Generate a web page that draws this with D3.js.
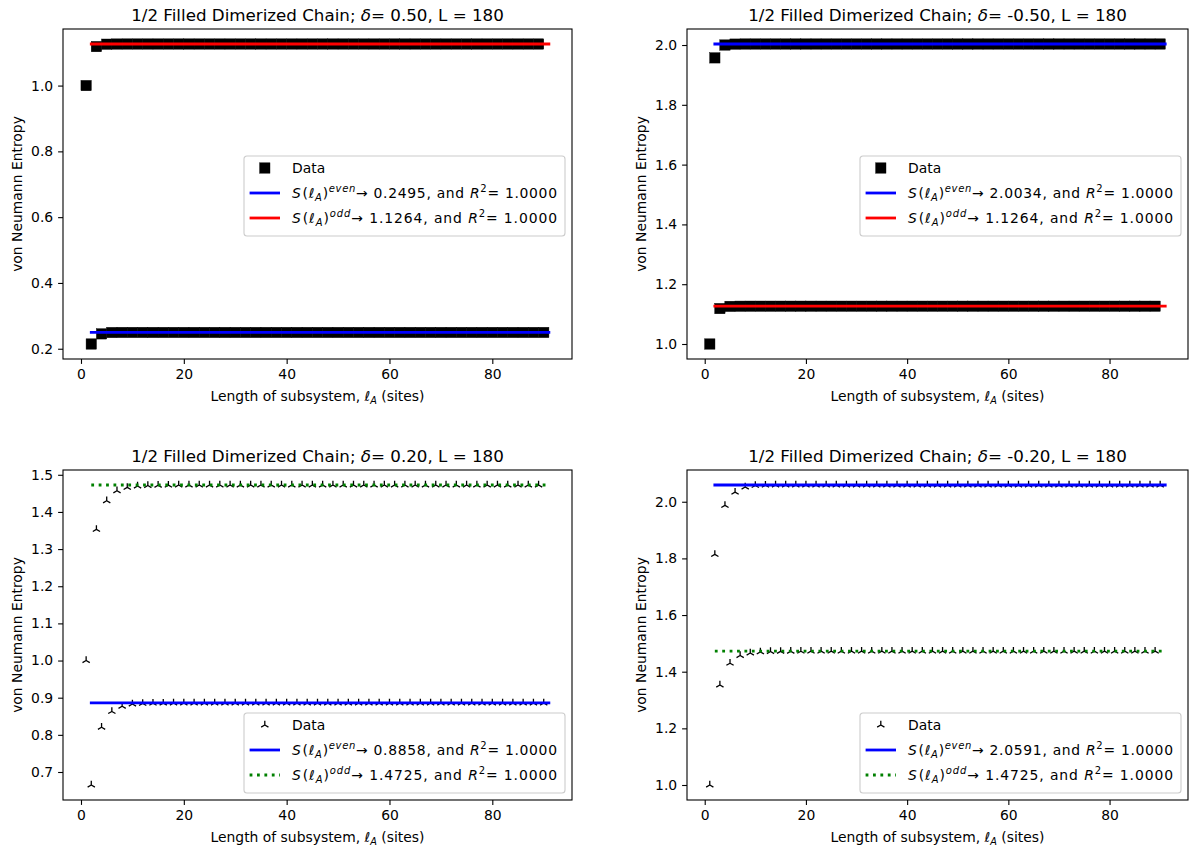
<!DOCTYPE html>
<html>
<head>
<meta charset="utf-8">
<script src="https://cdn.jsdelivr.net/npm/d3@7"></script>
<style>
body { margin: 0; background: #fff; }
svg { display: block; }
text { font-family: "DejaVu Sans", sans-serif; fill: #000; }
</style>
</head>
<body>
<svg></svg>
<script>
// subsystem lengths (sites), odd and even
const sitesOdd = [1,3,5,7,9,11,13,15,17,19,21,23,25,27,29,31,33,35,37,39,41,43,45,
  47,49,51,53,55,57,59,61,63,65,67,69,71,73,75,77,79,81,83,85,87,89];
const sitesEven = [2,4,6,8,10,12,14,16,18,20,22,24,26,28,30,32,34,36,38,40,42,44,46,
  48,50,52,54,56,58,60,62,64,66,68,70,72,74,76,78,80,82,84,86,88,90];
const fitRange = [2, 91];

// delta = 0.50
const sEven_d050 = [0.2144,0.2452,0.2493,0.2495,0.2495,0.2495,0.2495,0.2495,0.2495,
  0.2495,0.2495,0.2495,0.2495,0.2495,0.2495,0.2495,0.2495,0.2495,
  0.2495,0.2495,0.2495,0.2495,0.2495,0.2495,0.2495,0.2495,0.2495,
  0.2495,0.2495,0.2495,0.2495,0.2495,0.2495,0.2495,0.2495,0.2495,
  0.2495,0.2495,0.2495,0.2495,0.2495,0.2495,0.2495,0.2495,0.2495];
const sOdd_d050 = [1.0000,1.1185,1.1258,1.1263,1.1264,1.1264,1.1264,1.1264,1.1264,
  1.1264,1.1264,1.1264,1.1264,1.1264,1.1264,1.1264,1.1264,1.1264,
  1.1264,1.1264,1.1264,1.1264,1.1264,1.1264,1.1264,1.1264,1.1264,
  1.1264,1.1264,1.1264,1.1264,1.1264,1.1264,1.1264,1.1264,1.1264,
  1.1264,1.1264,1.1264,1.1264,1.1264,1.1264,1.1264,1.1264,1.1264];

// delta = -0.50
const sEven_dm050 = [1.9570,2.0000,2.0030,2.0034,2.0034,2.0034,2.0034,2.0034,2.0034,
  2.0034,2.0034,2.0034,2.0034,2.0034,2.0034,2.0034,2.0034,2.0034,
  2.0034,2.0034,2.0034,2.0034,2.0034,2.0034,2.0034,2.0034,2.0034,
  2.0034,2.0034,2.0034,2.0034,2.0034,2.0034,2.0034,2.0034,2.0034,
  2.0034,2.0034,2.0034,2.0034,2.0034,2.0034,2.0034,2.0034,2.0034];
const sOdd_dm050 = [1.0000,1.1185,1.1258,1.1263,1.1264,1.1264,1.1264,1.1264,1.1264,
  1.1264,1.1264,1.1264,1.1264,1.1264,1.1264,1.1264,1.1264,1.1264,
  1.1264,1.1264,1.1264,1.1264,1.1264,1.1264,1.1264,1.1264,1.1264,
  1.1264,1.1264,1.1264,1.1264,1.1264,1.1264,1.1264,1.1264,1.1264,
  1.1264,1.1264,1.1264,1.1264,1.1264,1.1264,1.1264,1.1264,1.1264];

// delta = 0.20
const sEven_d020 = [0.6650,0.8205,0.8630,0.8770,0.8830,0.8846,0.8852,0.8855,0.8857,
  0.8858,0.8858,0.8858,0.8858,0.8858,0.8858,0.8858,0.8858,0.8858,
  0.8858,0.8858,0.8858,0.8858,0.8858,0.8858,0.8858,0.8858,0.8858,
  0.8858,0.8858,0.8858,0.8858,0.8858,0.8858,0.8858,0.8858,0.8858,
  0.8858,0.8858,0.8858,0.8858,0.8858,0.8858,0.8858,0.8858,0.8858];
const sOdd_d020 = [1.0000,1.3530,1.4300,1.4570,1.4660,1.4698,1.4712,1.4719,1.4722,
  1.4724,1.4725,1.4725,1.4725,1.4725,1.4725,1.4725,1.4725,1.4725,
  1.4725,1.4725,1.4725,1.4725,1.4725,1.4725,1.4725,1.4725,1.4725,
  1.4725,1.4725,1.4725,1.4725,1.4725,1.4725,1.4725,1.4725,1.4725,
  1.4725,1.4725,1.4725,1.4725,1.4725,1.4725,1.4725,1.4725,1.4725];

// delta = -0.20
const sEven_dm020 = [1.8140,1.9870,2.0340,2.0520,2.0575,2.0585,2.0589,2.0590,2.0591,
  2.0591,2.0591,2.0591,2.0591,2.0591,2.0591,2.0591,2.0591,2.0591,
  2.0591,2.0591,2.0591,2.0591,2.0591,2.0591,2.0591,2.0591,2.0591,
  2.0591,2.0591,2.0591,2.0591,2.0591,2.0591,2.0591,2.0591,2.0591,
  2.0591,2.0591,2.0591,2.0591,2.0591,2.0591,2.0591,2.0591,2.0591];
const sOdd_dm020 = [1.0000,1.3530,1.4300,1.4570,1.4660,1.4698,1.4712,1.4719,1.4722,
  1.4724,1.4725,1.4725,1.4725,1.4725,1.4725,1.4725,1.4725,1.4725,
  1.4725,1.4725,1.4725,1.4725,1.4725,1.4725,1.4725,1.4725,1.4725,
  1.4725,1.4725,1.4725,1.4725,1.4725,1.4725,1.4725,1.4725,1.4725,
  1.4725,1.4725,1.4725,1.4725,1.4725,1.4725,1.4725,1.4725,1.4725];

const deltas = ["0.50", "-0.50", "0.20", "-0.20"];
const fitEven = [0.2495, 2.0034, 0.8858, 2.0591];
const fitOdd = [1.1264, 1.1264, 1.4725, 1.4725];
const rSquared = ["1.0000", "1.0000", "1.0000", "1.0000"];

const xTicks = [0, 20, 40, 60, 80];
const yTicksA = [0.2, 0.4, 0.6, 0.8, 1.0];
const yTicksB = [1.0, 1.2, 1.4, 1.6, 1.8, 2.0];
const yTicksC = [0.7, 0.8, 0.9, 1.0, 1.1, 1.2, 1.3, 1.4, 1.5];
const yTicksD = [1.0, 1.2, 1.4, 1.6, 1.8, 2.0];

const svg = d3.select("svg").attr("width", 1196).attr("height", 850);
const FS = 13.9;

const panels = [
  { x: 63, y: 29, w: 509, h: 330, even: sEven_d050, odd: sOdd_d050, yTicks: yTicksA,
    marker: "square", oddColor: "red", oddDash: null, legendY: "center" },
  { x: 687, y: 29, w: 501, h: 330, even: sEven_dm050, odd: sOdd_dm050, yTicks: yTicksB,
    marker: "square", oddColor: "red", oddDash: null, legendY: "center" },
  { x: 63, y: 470, w: 509, h: 330, even: sEven_d020, odd: sOdd_d020, yTicks: yTicksC,
    marker: "tri", oddColor: "green", oddDash: "2.8,4.6", legendY: "bottom" },
  { x: 687, y: 470, w: 501, h: 330, even: sEven_dm020, odd: sOdd_dm020, yTicks: yTicksD,
    marker: "tri", oddColor: "green", oddDash: "2.8,4.6", legendY: "bottom" }
];

function pad(ext) {
  const m = (ext[1] - ext[0]) * 0.05;
  return [ext[0] - m, ext[1] + m];
}

function triPath(r) {
  const a = 0.866 * r, b = 0.5 * r;
  return `M0,0L0,${-r}M0,0L${-a},${b}M0,0L${a},${b}`;
}

function drawMarker(g, kind) {
  if (kind === "square") {
    g.append("rect").attr("x", -5.2).attr("y", -5.2).attr("width", 10.4).attr("height", 10.4)
      .attr("fill", "#000").attr("stroke", "#000").attr("stroke-width", 0.4);
  } else {
    g.append("path").attr("d", triPath(4.2)).attr("fill", "none")
      .attr("stroke", "#000").attr("stroke-width", 1.3);
  }
}

// mathtext-like legend label, stretched to matplotlib's wider spacing
function fitLabel(t, which, value, r2) {
  const small = FS * 0.72;
  t.append("tspan").attr("font-style", "italic").text("S");
  t.append("tspan").attr("dx", 1).text("(");
  t.append("tspan").attr("font-style", "italic").text("ℓ");
  t.append("tspan").attr("font-style", "italic").attr("font-size", small).attr("dy", 3).text("A");
  t.append("tspan").attr("dy", -3).text(")");
  t.append("tspan").attr("font-style", "italic").attr("font-size", small).attr("dy", -6).text(which);
  t.append("tspan").attr("dy", 6).text("\u2192 " + value + ", and ");
  t.append("tspan").attr("font-style", "italic").text("R");
  t.append("tspan").attr("font-size", small).attr("dy", -6).text("2");
  t.append("tspan").attr("dy", 6).text("= " + r2);
  t.attr("textLength", 265).attr("lengthAdjust", "spacing");
}

panels.forEach((p, i) => {
  const allY = p.even.concat(p.odd, [fitEven[i], fitOdd[i]]);
  const x = d3.scaleLinear().domain(pad(d3.extent(sitesOdd.concat(sitesEven, fitRange)))).range([p.x, p.x + p.w]);
  const y = d3.scaleLinear().domain(pad(d3.extent(allY))).range([p.y + p.h, p.y]);
  const g = svg.append("g");

  // data markers
  const pts = sitesOdd.map((s, k) => [s, p.odd[k]]).concat(sitesEven.map((s, k) => [s, p.even[k]]))
    .sort((a, b) => a[0] - b[0]);
  pts.forEach(d => {
    const m = g.append("g").attr("transform", `translate(${x(d[0])},${y(d[1])})`);
    drawMarker(m, p.marker);
  });

  // fit lines
  g.append("line").attr("x1", x(fitRange[0])).attr("x2", x(fitRange[1]))
    .attr("y1", y(fitEven[i])).attr("y2", y(fitEven[i]))
    .attr("stroke", "blue").attr("stroke-width", 2.8).attr("stroke-linecap", "square");
  const lo = g.append("line").attr("x1", x(fitRange[0])).attr("x2", x(fitRange[1]))
    .attr("y1", y(fitOdd[i])).attr("y2", y(fitOdd[i]))
    .attr("stroke", p.oddColor).attr("stroke-width", 2.8);
  if (p.oddDash) lo.attr("stroke-dasharray", p.oddDash);
  else lo.attr("stroke-linecap", "square");

  // axes
  const ax = g.append("g").attr("transform", `translate(0,${p.y + p.h})`)
    .call(d3.axisBottom(x).tickValues(xTicks).tickSize(4.9).tickPadding(4.9));
  const ay = g.append("g").attr("transform", `translate(${p.x},0)`)
    .call(d3.axisLeft(y).tickValues(p.yTicks).tickFormat(d3.format(".1f")).tickSize(4.9).tickPadding(4.9));
  [ax, ay].forEach(a => {
    a.select(".domain").remove();
    a.selectAll("line").attr("stroke", "#000").attr("stroke-width", 1.1);
    a.selectAll("text").attr("font-size", FS).attr("font-family", "DejaVu Sans");
  });

  g.append("rect").attr("x", p.x).attr("y", p.y).attr("width", p.w).attr("height", p.h)
    .attr("fill", "none").attr("stroke", "#000").attr("stroke-width", 1.1);

  // title
  const tt = g.append("text").attr("x", p.x + p.w / 2).attr("y", p.y - 8.5)
    .attr("text-anchor", "middle").attr("font-size", 16.7);
  tt.append("tspan").text("1/2 Filled Dimerized Chain; ");
  tt.append("tspan").attr("font-style", "italic").text("δ");
  tt.append("tspan").text("= " + deltas[i] + ", L = 180");

  // axis labels
  const xl = g.append("text").attr("x", p.x + p.w / 2).attr("y", p.y + p.h + 42)
    .attr("text-anchor", "middle").attr("font-size", FS);
  xl.append("tspan").text("Length of subsystem, ");
  xl.append("tspan").attr("font-style", "italic").text("ℓ");
  xl.append("tspan").attr("font-style", "italic").attr("font-size", FS * 0.7).attr("dy", 3).text("A");
  xl.append("tspan").attr("dy", -3).text(" (sites)");

  g.append("text").attr("transform", `translate(${p.x - 41},${p.y + p.h / 2}) rotate(-90)`)
    .attr("text-anchor", "middle").attr("font-size", FS).text("von Neumann Entropy");

  // legend
  const lg = g.append("g");
  const box = lg.append("rect").attr("fill", "#fff").attr("fill-opacity", 0.8)
    .attr("stroke", "#cccccc").attr("stroke-width", 1.1).attr("rx", 3);
  const rows = [12, 37, 62];
  const hx0 = 5.6, hx1 = 36, tx = 48;
  const m0 = lg.append("g").attr("transform", `translate(${(hx0 + hx1) / 2},${rows[0]})`);
  drawMarker(m0, p.marker);
  lg.append("text").attr("x", tx).attr("y", rows[0] + 5).attr("font-size", FS).text("Data");
  lg.append("line").attr("x1", hx0).attr("x2", hx1).attr("y1", rows[1]).attr("y2", rows[1])
    .attr("stroke", "blue").attr("stroke-width", 2.8);
  fitLabel(lg.append("text").attr("x", tx).attr("y", rows[1] + 5).attr("font-size", FS), "even", fitEven[i].toFixed(4), rSquared[i]);
  const l2 = lg.append("line").attr("x1", hx0).attr("x2", hx1).attr("y1", rows[2]).attr("y2", rows[2])
    .attr("stroke", p.oddColor).attr("stroke-width", 2.8);
  if (p.oddDash) l2.attr("stroke-dasharray", p.oddDash);
  fitLabel(lg.append("text").attr("x", tx).attr("y", rows[2] + 5).attr("font-size", FS), "odd", fitOdd[i].toFixed(4), rSquared[i]);

  const lw = tx + 265 + 8, lh = 80;
  box.attr("x", 0).attr("y", 0).attr("width", lw).attr("height", lh);
  const lx = p.x + p.w - 7 - lw;
  const ly = p.legendY === "center" ? p.y + p.h / 2 - lh / 2 + 2 : p.y + p.h - 7 - lh;
  lg.attr("transform", `translate(${lx},${ly})`);
});
</script>
</body>
</html>
